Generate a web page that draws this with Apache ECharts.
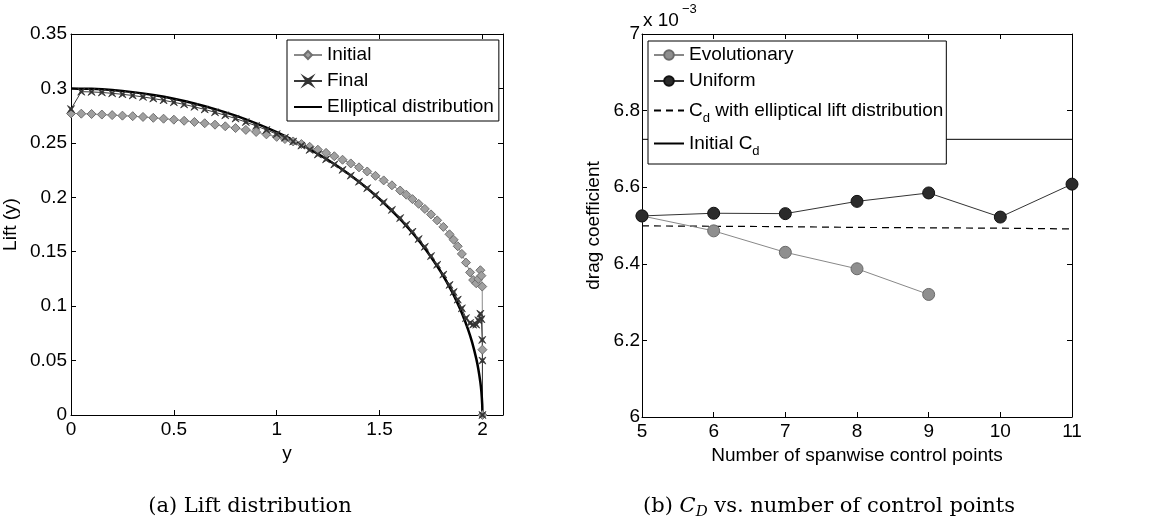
<!DOCTYPE html>
<html>
<head>
<meta charset="utf-8">
<script src="https://cdn.jsdelivr.net/npm/echarts@6/dist/echarts.min.js"></script>
<style>
html,body{margin:0;padding:0;background:#fff;}
#c{width:1149px;height:529px;}
</style>
</head>
<body>
<div id="c"></div>
<script>
// ---------- Data: (a) Lift distribution ----------
const liftX = [0, 0.05, 0.10, 0.15, 0.20, 0.25, 0.30, 0.35, 0.40, 0.45, 0.50, 0.55, 0.60, 0.65, 0.70, 0.75, 0.80, 0.85, 0.90, 0.95,
  1.00, 1.04, 1.08, 1.12, 1.16, 1.20, 1.24, 1.28, 1.32, 1.36, 1.40, 1.44, 1.48, 1.52, 1.56, 1.60, 1.63, 1.66, 1.69, 1.72,
  1.75, 1.78, 1.81, 1.84, 1.86, 1.88, 1.90, 1.92, 1.94, 1.955, 1.97, 1.98, 1.99, 1.995, 1.999, 2.0, 2.0];
const initialLift = [0.277, 0.2768, 0.2765, 0.276, 0.2755, 0.275, 0.2745, 0.2738, 0.273, 0.2722, 0.2713, 0.2703, 0.2692, 0.268, 0.2667, 0.2652, 0.2636, 0.2619, 0.260, 0.2578,
  0.2555, 0.2535, 0.2513, 0.2489, 0.2464, 0.2437, 0.2408, 0.2377, 0.2345, 0.2311, 0.2275, 0.2237, 0.2197, 0.2155, 0.2110, 0.2062, 0.2024, 0.1983, 0.194, 0.1893,
  0.1843, 0.1788, 0.1728, 0.166, 0.161, 0.155, 0.148, 0.140, 0.131, 0.124, 0.121, 0.125, 0.133, 0.128, 0.118, 0.06, 0];
const finalLift = [0.281, 0.297, 0.2968, 0.2963, 0.2955, 0.2946, 0.2935, 0.2922, 0.2907, 0.2891, 0.2873, 0.2853, 0.2831, 0.2807, 0.2781, 0.2753, 0.2723, 0.2691, 0.2656, 0.2619,
  0.258, 0.2547, 0.2512, 0.2475, 0.2435, 0.2393, 0.2349, 0.2302, 0.2252, 0.2199, 0.2143, 0.2084, 0.2021, 0.1955, 0.1884, 0.1809, 0.1748, 0.1684, 0.1616, 0.1545,
  0.146, 0.138, 0.129, 0.1195, 0.113, 0.106, 0.098, 0.089, 0.0845, 0.083, 0.083, 0.087, 0.093, 0.088, 0.069, 0.05, 0];
const ellipX = [0, 0.1, 0.2, 0.3, 0.4, 0.5, 0.6, 0.7, 0.8, 0.9, 1.0, 1.1, 1.2, 1.3, 1.4, 1.5, 1.6, 1.65, 1.7, 1.75, 1.8, 1.85, 1.88, 1.9, 1.93, 1.95, 1.97, 1.98, 1.99, 1.995, 1.999, 2.0];
const ellipLift = [0.300, 0.2996, 0.2985, 0.2966, 0.2939, 0.2905, 0.2862, 0.2810, 0.2750, 0.2679, 0.2598, 0.2505, 0.2400, 0.2280, 0.2142, 0.1984, 0.1800, 0.1695, 0.1580, 0.1452, 0.1308, 0.114, 0.1023, 0.0937, 0.0787, 0.0667, 0.0518, 0.0423, 0.0300, 0.0212, 0.0095, 0];
const liftXTicks = ['0', '0.5', '1', '1.5', '2'];

// ---------- Data: (b) C_D vs number of control points ----------
const cpX = [5, 6, 7, 8, 9, 10, 11];
const evolX = [5, 6, 7, 8, 9];
const evolCd = [6.525, 6.486, 6.430, 6.387, 6.320];
const uniformCd = [6.525, 6.532, 6.531, 6.563, 6.585, 6.522, 6.608];
const ellipCd = [6.499, 6.498, 6.497, 6.495, 6.494, 6.493, 6.491];
const initCdX = [5, 11];
const initCd = [6.725, 6.725];

const zip = (xs, ys) => xs.map((x, i) => [x, ys[i]]);
const FONT = 'Liberation Sans, Arial, sans-serif';
const SERIF = 'DejaVu Serif, serif';
const FS = 19;

const axisCommon = {
  axisLine: { show: true, onZero: false, lineStyle: { color: '#000', width: 1 } },
  axisTick: { show: true, inside: true, length: 5, lineStyle: { color: '#000' } },
  splitLine: { show: false },
  axisLabel: { color: '#000', fontSize: FS, fontFamily: FONT, margin: 4 },
  nameTextStyle: { color: '#000', fontSize: FS, fontFamily: FONT }
};
function ax(extra) { return Object.assign({}, JSON.parse(JSON.stringify(axisCommon)), extra); }
const hideSym = { opacity: 0, color: 'rgba(0,0,0,0)', borderWidth: 0 };

const chart = echarts.init(document.getElementById('c'));
const option = {
  backgroundColor: '#fff',
  animation: false,
  grid: [
    { left: 71, top: 34, width: 432, height: 381, outerBoundsMode: 'none' },
    { left: 642, top: 34, width: 430, height: 383, outerBoundsMode: 'none' }
  ],
  xAxis: [
    ax({ gridIndex: 0, type: 'value', min: 0, max: 2.1, interval: 0.5, position: 'bottom',
      name: 'y', nameLocation: 'middle', nameGap: 26,
      axisLabel: { color: '#000', fontSize: FS, fontFamily: FONT, margin: 5,
        formatter: v => { const s = String(+v.toFixed(2)); return liftXTicks.indexOf(s) >= 0 ? s : ''; } } }),
    ax({ gridIndex: 0, type: 'value', min: 0, max: 2.1, interval: 0.5, position: 'top', axisLabel: { show: false } }),
    ax({ gridIndex: 1, type: 'value', min: 5, max: 11, interval: 1, position: 'bottom',
      name: 'Number of spanwise control points', nameLocation: 'middle', nameGap: 24,
      axisLabel: { color: '#000', fontSize: FS, fontFamily: FONT, margin: 5 } }),
    ax({ gridIndex: 1, type: 'value', min: 5, max: 11, interval: 1, position: 'top', axisLabel: { show: false } })
  ],
  yAxis: [
    ax({ gridIndex: 0, type: 'value', min: 0, max: 0.35, interval: 0.05, position: 'left',
      name: 'Lift (y)', nameLocation: 'middle', nameGap: 51 }),
    ax({ gridIndex: 0, type: 'value', min: 0, max: 0.35, interval: 0.05, position: 'right', axisLabel: { show: false } }),
    ax({ gridIndex: 1, type: 'value', min: 6, max: 7, interval: 0.2, position: 'left',
      name: 'drag coefficient', nameLocation: 'middle', nameGap: 39,
      axisLabel: { color: '#000', fontSize: FS, fontFamily: FONT, margin: 2 } }),
    ax({ gridIndex: 1, type: 'value', min: 6, max: 7, interval: 0.2, position: 'right', axisLabel: { show: false } })
  ],
  legend: [
    {
      orient: 'vertical', left: 287, top: 40,
      data: ['Initial', 'Final', { name: 'Elliptical distribution', itemStyle: hideSym }],
      backgroundColor: '#fff', borderColor: '#000', borderWidth: 1, borderRadius: 0,
      padding: [5, 5, 4, 6], itemGap: 6, itemWidth: 28, itemHeight: 10,
      textStyle: { color: '#000', fontSize: FS, fontFamily: FONT, lineHeight: 20 }
    },
    {
      orient: 'vertical', left: 648, top: 41,
      data: ['Evolutionary', 'Uniform', { name: 'Cd elliptical', itemStyle: hideSym }, { name: 'Initial Cd', itemStyle: hideSym }],
      backgroundColor: '#fff', borderColor: '#000', borderWidth: 1, borderRadius: 0,
      padding: [3, 3, 6, 5], itemGap: 4, itemWidth: 30, itemHeight: 12,
      textStyle: { color: '#000', fontSize: FS, fontFamily: FONT, lineHeight: 22,
        rich: { s: { fontSize: 13, fontFamily: FONT, lineHeight: 13, padding: [16, 0, 0, 0], color: '#000' } } },
      formatter: name => name === 'Cd elliptical' ? 'C{s|d} with elliptical lift distribution'
        : name === 'Initial Cd' ? 'Initial C{s|d}' : name
    }
  ],
  graphic: [
    { type: 'text', x: 643, y: 11, style: { text: 'x 10', fontSize: FS, fontFamily: FONT, fill: '#000' } },
    { type: 'text', x: 682, y: 3, style: { text: '\u22123', fontSize: 13, fontFamily: FONT, fill: '#000' } },
    { type: 'text', x: 250, y: 507, style: { text: '(a) Lift distribution', fontSize: 21, fontFamily: SERIF, fill: '#000', align: 'center', verticalAlign: 'middle' } },
    { type: 'text', x: 829, y: 507, style: {
      text: '(b) {i|C}{d|D} vs. number of control points', fontSize: 21, fontFamily: SERIF, fill: '#000',
      align: 'center', verticalAlign: 'middle',
      rich: {
        i: { fontSize: 21, fontFamily: SERIF, fontStyle: 'italic', fill: '#000' },
        d: { fontSize: 15, fontFamily: SERIF, fontStyle: 'italic', fill: '#000', padding: [10, 0, 0, 0] }
      } } }
  ],
  series: [
    { name: 'Initial', type: 'line', xAxisIndex: 0, yAxisIndex: 0, data: zip(liftX, initialLift),
      symbol: 'diamond', symbolSize: 9, showAllSymbol: true,
      itemStyle: { color: '#a0a0a0', borderColor: '#707070', borderWidth: 1 },
      lineStyle: { color: '#8a8a8a', width: 1 } },
    { name: 'Final', type: 'line', xAxisIndex: 0, yAxisIndex: 0, data: zip(liftX, finalLift),
      symbol: 'path://M0,0 L3,2 L6,0 L4,3 L6,6 L3,4 L0,6 L2,3 Z', symbolSize: 7, showAllSymbol: true,
      itemStyle: { color: '#333', borderColor: '#333', borderWidth: 0.8 },
      lineStyle: { color: '#3a3a3a', width: 1 } },
    { name: 'Elliptical distribution', type: 'line', xAxisIndex: 0, yAxisIndex: 0, data: zip(ellipX, ellipLift),
      symbol: 'none', smooth: 0.2, lineStyle: { color: '#000', width: 2.5 }, itemStyle: { color: '#000' } },

    { name: 'Initial Cd', type: 'line', xAxisIndex: 2, yAxisIndex: 2, data: zip(initCdX, initCd),
      symbol: 'none', lineStyle: { color: '#000', width: 1 }, itemStyle: { color: '#000' } },
    { name: 'Cd elliptical', type: 'line', xAxisIndex: 2, yAxisIndex: 2, data: zip(cpX, ellipCd),
      symbol: 'none', lineStyle: { color: '#000', width: 1.2, type: [7, 5] }, itemStyle: { color: '#000' } },
    { name: 'Evolutionary', type: 'line', xAxisIndex: 2, yAxisIndex: 2, data: zip(evolX, evolCd),
      symbol: 'circle', symbolSize: 12,
      itemStyle: { color: '#8f8f8f', borderColor: '#6a6a6a', borderWidth: 1 },
      lineStyle: { color: '#888', width: 1 } },
    { name: 'Uniform', type: 'line', xAxisIndex: 2, yAxisIndex: 2, data: zip(cpX, uniformCd),
      symbol: 'circle', symbolSize: 12,
      itemStyle: { color: '#2b2b2b', borderColor: '#111', borderWidth: 1 },
      lineStyle: { color: '#333', width: 1 } }
  ]
};
chart.setOption(option);
</script>
</body>
</html>
